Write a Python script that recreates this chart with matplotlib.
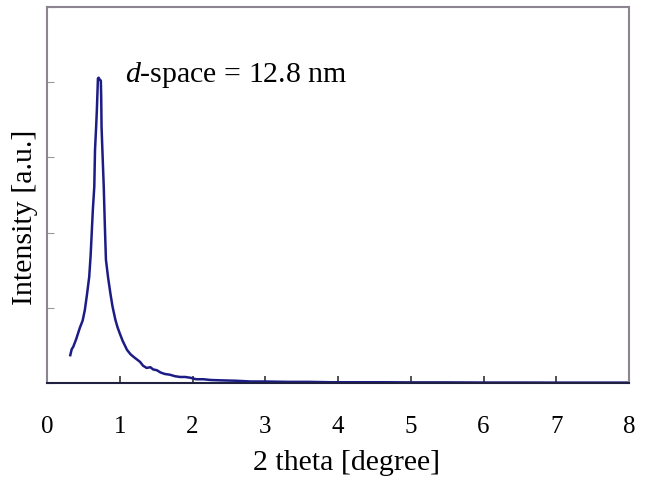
import matplotlib
matplotlib.use("Agg")
import matplotlib.pyplot as plt

plt.rcParams["mathtext.fontset"] = "custom"
plt.rcParams["mathtext.rm"] = "Liberation Serif"
plt.rcParams["mathtext.it"] = "Liberation Serif:italic"

two_theta = [0.32, 0.34, 0.36, 0.40, 0.45, 0.49, 0.52, 0.55, 0.58, 0.60, 0.615, 0.63, 0.65, 0.66,
             0.675, 0.685, 0.69, 0.70, 0.71, 0.72, 0.73, 0.74, 0.745, 0.75, 0.765, 0.78, 0.795,
             0.81, 0.84, 0.87, 0.90, 0.94, 0.97, 1.00, 1.04, 1.07, 1.10, 1.15, 1.20, 1.24, 1.28,
             1.32, 1.37, 1.42, 1.46, 1.51, 1.56, 1.62, 1.69, 1.76, 1.83, 1.90, 1.97, 2.05, 2.15,
             2.25, 2.40, 2.60, 2.80, 3.00, 3.30, 3.60, 3.90, 4.20, 4.60, 5.00, 5.50, 6.00, 6.50,
             7.00, 7.50, 8.00]
intensity = [0.37, 0.45, 0.48, 0.58, 0.73, 0.83, 0.97, 1.18, 1.41, 1.70, 2.00, 2.30, 2.61, 3.10,
             3.40, 3.62, 3.76, 4.05, 4.06, 4.04, 4.03, 4.02, 3.80, 3.40, 3.00, 2.61, 2.10,
             1.64, 1.40, 1.20, 1.02, 0.84, 0.74, 0.66, 0.56, 0.50, 0.44, 0.38, 0.34, 0.31, 0.28,
             0.23, 0.20, 0.21, 0.18, 0.17, 0.14, 0.12, 0.11, 0.09, 0.08, 0.08, 0.07, 0.05, 0.05,
             0.04, 0.035, 0.03, 0.02, 0.02, 0.015, 0.015, 0.01, 0.01, 0.01, 0.008, 0.008, 0.006,
             0.006, 0.005, 0.005, 0.005]

x_ticks = [0, 1, 2, 3, 4, 5, 6, 7, 8]
y_ticks = [0, 1, 2, 3, 4, 5]

serif = ["Liberation Serif", "DejaVu Serif"]

W, H = 647, 483
fig = plt.figure(figsize=(W / 100, H / 100), dpi=100)
ax = fig.add_axes([47 / W, 1 - 383 / H, (629 - 47) / W, (383 - 7) / H])
ax.plot(two_theta, intensity, color="#1c1c86", lw=1.8)

ax.set_xlim(0, 8)
ax.set_ylim(0, 5)
ax.set_xticks(x_ticks)
ax.set_xticklabels([str(t) for t in x_ticks], fontfamily=serif, fontsize=18)
ax.set_yticks(y_ticks)
ax.set_yticklabels([])
ax.tick_params(axis="x", direction="in", length=5, width=1.2, color="#333333", pad=24)
ax.tick_params(axis="y", direction="in", length=5, width=0.8, color="#999999")

for side in ["top", "right", "left"]:
    ax.spines[side].set_color("#8c8590")
    ax.spines[side].set_linewidth(1.5)
ax.spines["bottom"].set_color("#202040")
ax.spines["bottom"].set_linewidth(1.5)

fig.text(347 / W, 1 - 463 / H, "2 theta [degree]", fontfamily=serif, fontsize=21.5,
         ha="center", va="center")
fig.text(25 / W, 1 - 217 / H, "Intensity [a.u.]", fontfamily=serif, fontsize=21.5,
         ha="center", va="center", rotation=90)

ax.text(1.07, 4.0, r"$d$-space = 12.8 nm", fontfamily=serif, fontsize=21.5,
        ha="left", va="baseline")

fig.savefig("out.png", dpi=100)
